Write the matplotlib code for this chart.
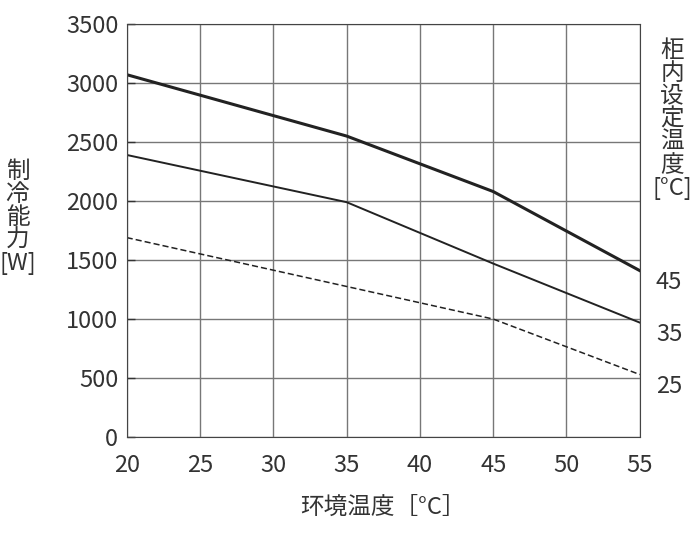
import matplotlib
matplotlib.use("Agg")
from matplotlib import pyplot as plt

plt.rcParams['font.family'] = ['Noto Sans CJK JP', 'DejaVu Sans']

temps = [20, 35, 45, 55]
cap45 = [3070, 2550, 2080, 1410]
cap35 = [2390, 1990, 1470, 970]
temps25 = [20, 45, 55]
cap25 = [1690, 1000, 530]
end_labels = ["45", "35", "25"]

fig = plt.figure(figsize=(7, 5.43), dpi=100)
ax = fig.add_axes([0.181, 0.195, 0.733, 0.761])

ax.plot(temps, cap45, color='#222222', lw=2.2)
ax.plot(temps, cap35, color='#222222', lw=1.4)
ax.plot(temps25, cap25, color='#222222', lw=1.1, ls=(0, (4, 2)))

ax.set_xlim(20, 55)
ax.set_ylim(0, 3500)
ax.set_xticks(range(20, 56, 5))
ax.set_yticks(range(0, 3501, 500))
ax.grid(True, color='#777777', lw=1.0)
for s in ax.spines.values():
    s.set_color('#444444')
ax.tick_params(labelsize=17, colors='#333333', length=0, pad=6)
ax.tick_params(axis='x', pad=12)
ax.tick_params(axis='y', length=6, direction='in', left=True, width=1)

for val, lab in zip([cap45[-1], cap35[-1], cap25[-1]], end_labels):
    ax.text(56.1, val - 100, lab, fontsize=17, color='#333333', va='center', ha='left')

ax.set_xlabel("环境温度［°C］", fontsize=17, color='#333333', labelpad=14)
fig.text(0.025, 0.6, "制\n冷\n能\n力\n[W]", fontsize=17, color='#333333',
         ha='center', va='center', linespacing=1.0)
fig.text(0.96, 0.78, "柜\n内\n设\n定\n温\n度\n[°C]", fontsize=17, color='#333333',
         ha='center', va='center', linespacing=1.0)

fig.savefig("out.png", dpi=100)
